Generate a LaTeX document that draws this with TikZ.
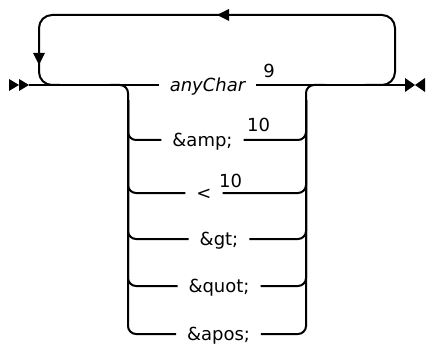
\documentclass[tikz,border=0pt]{standalone}
\usepackage{fontspec}
\setmainfont{DejaVu Sans}
\usetikzlibrary{arrows.meta}
\begin{document}
\begin{tikzpicture}[x=1pt,y=-1pt,line width=2pt,every node/.style={font=\fontsize{18}{20}\selectfont},lbl/.style={inner xsep=10pt,inner ysep=0pt,text height=13pt,text depth=0pt},sup/.style={inner sep=0pt}]
\useasboundingbox(0,0)rectangle(427,347);

\coordinate(start)at(29,85);
\coordinate(finish)at(405,85);

\node[lbl](t0)at(207.5,85){\itshape anyChar};
\node[lbl](t1)at(202.5,140){\&amp;};
\node[lbl](t2)at(204,193){<};
\node[lbl](t3)at(219,239){\&gt;};
\node[lbl](t4)at(219,286){\&quot;};
\node[lbl](t5)at(218.5,334){\&apos;};

\node[sup](s0)at(269,71){9};
\node[sup](s1)at(258.5,125){10};
\node[sup](s2)at(230.5,181){10};

\fill(9,79)--(19,85)--(9,91)--cycle;
\fill(19,79)--(29,85)--(19,91)--cycle;
\fill(405,78)--(415,85)--(405,92)--cycle;
\fill(425,78)--(415,85)--(425,92)--cycle;

\draw(start)--(t0.west);
\draw(t0.east)--(finish);

\draw[rounded corners=13pt](365,85)--(395,85)--(395,15)--(39,15)--(39,85)--(60,85);
\fill(217,15)--(229,9)--(229,21)--cycle;
\fill(39,65)--(33,53)--(45,53)--cycle;

\draw[rounded corners=8pt](110,85)-|(128,334)--(t5.west);
\draw[rounded corners=8pt](128,100)|-(t1.west);
\draw[rounded corners=8pt](128,100)|-(t2.west);
\draw[rounded corners=8pt](128,100)|-(t3.west);
\draw[rounded corners=8pt](128,100)|-(t4.west);

\draw[rounded corners=8pt](t5.east)-|(306,85)--(325,85);
\draw[rounded corners=8pt](t1.east)-|(306,100);
\draw[rounded corners=8pt](t2.east)-|(306,100);
\draw[rounded corners=8pt](t3.east)-|(306,100);
\draw[rounded corners=8pt](t4.east)-|(306,100);

\end{tikzpicture}
\end{document}
